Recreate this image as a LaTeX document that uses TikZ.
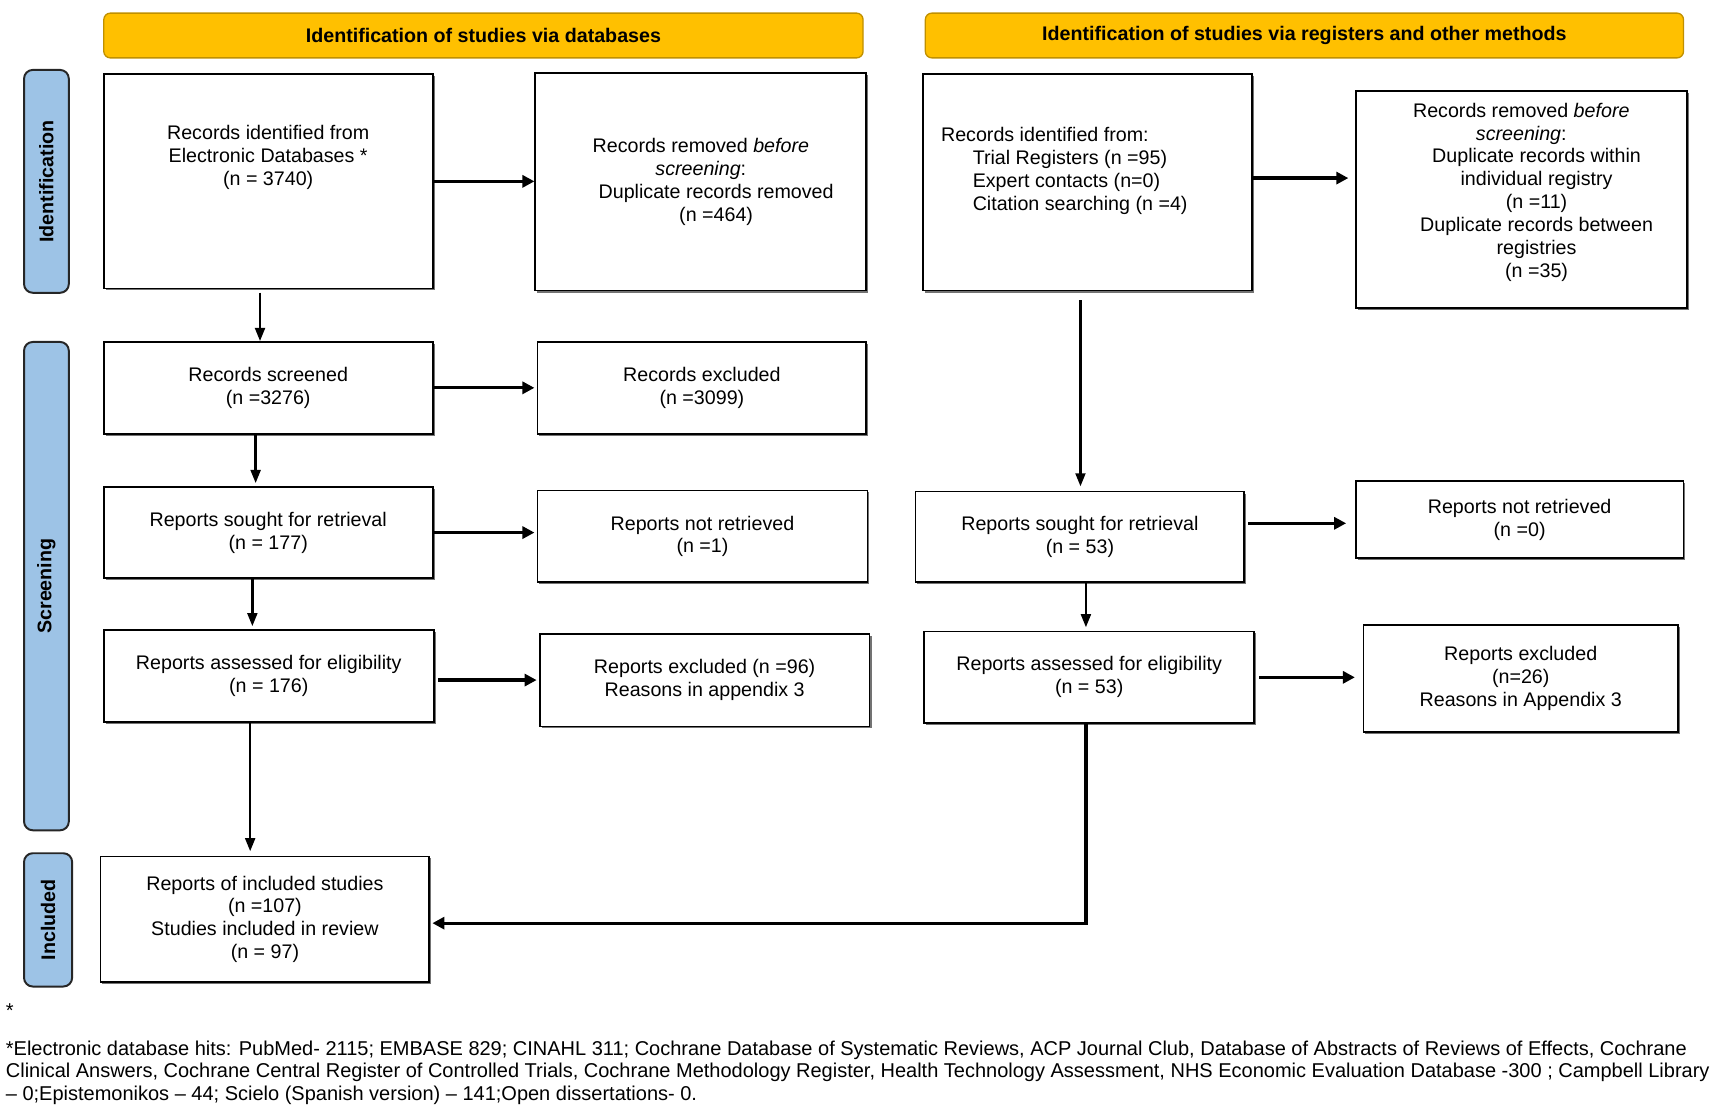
\documentclass[tikz,border=0pt]{standalone}
\usepackage{fontspec}
\setmainfont{Liberation Sans}
\usetikzlibrary{arrows.meta,shadows}
\definecolor{hdr}{HTML}{FFC000}
\definecolor{hdrline}{HTML}{C09000}
\definecolor{side}{HTML}{9DC3E6}
\newcommand\boxfont{\fontsize{9}{10.5}\selectfont}
\newcommand\footfont{\fontsize{9.15}{10.4}\selectfont}
\begin{document}
\begin{tikzpicture}[x=0.5pt,y=-0.5pt,
  box/.style={draw=black, line width=0.8pt, fill=white, align=center, inner sep=0pt, font=\boxfont,
    execute at begin node={\rule{0pt}{9.4pt}},
    drop shadow={shadow xshift=0.9pt,shadow yshift=-0.9pt,fill=black!55,opacity=1}},
  txt/.style={align=center, inner sep=0pt, font=\boxfont, execute at begin node={\rule{0pt}{9.4pt}}},
  foottxt/.style={align=left, inner sep=0pt, font=\footfont, anchor=west},
  hdrbox/.style={draw=hdrline, line width=0.6pt, fill=hdr, rounded corners=3pt, font=\boxfont\bfseries, minimum height=20.5pt, inner sep=0pt},
  sidebox/.style={draw=black!85, line width=0.9pt, fill=side, rounded corners=4pt, rotate=90, font=\boxfont\bfseries, inner sep=0pt},
  varr/.style={line width=1.1pt, -{Triangle[length=6pt,width=4.5pt]}},
  harr/.style={line width=1.5pt, -{Triangle[length=5.5pt,width=5.5pt]}},
]
\useasboundingbox (0,0) rectangle (1568,1012);

% headers
\node[hdrbox, minimum width=347.5pt] (h1) at (442.5,32.5) {Identification of studies via databases};
\node[hdrbox, minimum width=347pt] (h2) at (1194,32.5) {Identification of studies via registers and other methods};

% side labels
\node[sidebox, minimum width=102pt, minimum height=20.5pt] (sid) at (42.5,166) {Identification};
\node[sidebox, minimum width=223.5pt, minimum height=20.5pt] (sscr) at (42.5,536.5) {Screening};
\node[sidebox, minimum width=61pt, minimum height=22pt] (sinc) at (44,842) {Included};

% left column
\node[box, minimum width=150.5pt, minimum height=98pt] (b1) at (245.5,166) {};
\node[txt] (b1t) at (245.5,144) {Records identified from\\Electronic Databases *\\(n = 3740)};
\node[box, minimum width=151.5pt, minimum height=99.5pt] (b2) at (641.5,166.5)
  {Records removed \textit{before}\\\textit{screening}:\\\hspace*{14pt}Duplicate records removed\\\hspace*{14pt}(n =464)};
\node[box, minimum width=150.5pt, minimum height=42pt] (b3) at (245.5,355) {Records screened\\(n =3276)};
\node[box, minimum width=150.5pt, minimum height=42pt] (b4) at (642.5,355) {Records excluded\\(n =3099)};
\node[box, minimum width=150.5pt, minimum height=41.5pt] (b5) at (245.5,487.5) {Reports sought for retrieval\\(n = 177)};
\node[box, minimum width=151pt, minimum height=42pt] (b6) at (643,491) {Reports not retrieved\\(n =1)};
\node[box, minimum width=151pt, minimum height=42pt] (b7) at (246,619) {Reports assessed for eligibility\\(n = 176)};
\node[box, minimum width=151pt, minimum height=42.5pt] (b8) at (645,622.5) {Reports excluded (n =96)\\Reasons in appendix 3};
\node[box, minimum width=150.5pt, minimum height=57.5pt] (b9) at (242.5,841.5) {Reports of included studies\\(n =107)\\Studies included in review\\(n = 97)};

% right column
\node[box, minimum width=150.5pt, minimum height=99pt] (r1) at (995.5,167) {};
\node[txt, anchor=west, align=left] (r1t) at (861,156.5) {Records identified from:\\\hspace*{14.5pt}Trial Registers (n =95)\\\hspace*{14.5pt}Expert contacts (n=0)\\\hspace*{14.5pt}Citation searching (n =4)};
\node[box, minimum width=151.5pt, minimum height=99.5pt] (r2) at (1392.5,182.5) {};
\node[txt] (r2t) at (1392.5,176) {Records removed \textit{before}\\\textit{screening}:\\\hspace*{14pt}Duplicate records within\\\hspace*{14pt}individual registry\\\hspace*{14pt}(n =11)\\\hspace*{14pt}Duplicate records between\\\hspace*{14pt}registries\\\hspace*{14pt}(n =35)};
\node[box, minimum width=150.5pt, minimum height=41.5pt] (r3) at (988.5,491.5) {Reports sought for retrieval\\(n = 53)};
\node[box, minimum width=150pt, minimum height=35.5pt] (r4) at (1391,475.5) {Reports not retrieved\\(n =0)};
\node[box, minimum width=151pt, minimum height=42pt] (r5) at (997,620) {Reports assessed for eligibility\\(n = 53)};
\node[box, minimum width=144pt, minimum height=49pt] (r6) at (1392,621) {Reports excluded\\(n=26)\\Reasons in Appendix 3};

% left arrows
\draw[harr] (b1.east) -- (b1.east -| b2.west);
\draw[varr] ([xshift=-3.75pt,yshift=-1.5pt]b1.south) -- ([xshift=-3.75pt]b1.south |- b3.north);
\draw[harr] (b3.east) -- ([xshift=-1pt]b3.east -| b4.west);
\draw[varr] ([xshift=-5.75pt]b3.south) -- ([xshift=-5.75pt,yshift=1.5pt]b3.south |- b5.north);
\draw[harr] (b5.east) -- ([xshift=-1pt]b5.east -| b6.west);
\draw[varr] ([xshift=-7.25pt]b5.south) -- ([xshift=-7.25pt,yshift=1.5pt]b5.south |- b7.north);
\draw[harr] ([xshift=1.5pt]b7.east |- b8.west) -- ([xshift=-1pt]b8.west);
\draw[varr] ([xshift=-8.5pt]b7.south) -- ([xshift=-8.5pt,yshift=2pt]b7.south |- b9.north);

% right arrows
\draw[harr] ([yshift=2pt]r1.east) -- ([yshift=2pt,xshift=-3pt]r1.east -| r2.west);
\draw[varr] ([xshift=-3.25pt,yshift=-4pt]r1.south) -- ([xshift=-3.25pt,yshift=2pt]r1.south |- r3.north);
\draw[harr] ([yshift=-1.75pt,xshift=1.5pt]r4.west -| r3.east) -- ([yshift=-1.75pt,xshift=-4pt]r4.west);
\draw[varr] ([xshift=2.75pt]r3.south) -- ([xshift=2.75pt,yshift=1.5pt]r3.south |- r5.north);
\draw[harr] ([xshift=2pt]r5.east) -- ([xshift=-3.5pt]r5.east -| r6.west);
\draw[harr] ([xshift=-1.5pt]r5.south) |- ([yshift=-1.75pt,xshift=1pt]b9.east);

% footnote
\node[foottxt] (star) at (5,925) {*};
\node[foottxt] (foot) at (5,982) {*Electronic database hits: PubMed- 2115; EMBASE 829; CINAHL 311; Cochrane Database of Systematic Reviews, ACP Journal Club, Database of Abstracts of Reviews of Effects, Cochrane\\Clinical Answers, Cochrane Central Register of Controlled Trials, Cochrane Methodology Register, Health Technology Assessment, NHS Economic Evaluation Database -300 ; Campbell Library\\– 0;Epistemonikos – 44; Scielo (Spanish version) – 141;Open dissertations- 0.};
\end{tikzpicture}
\end{document}
